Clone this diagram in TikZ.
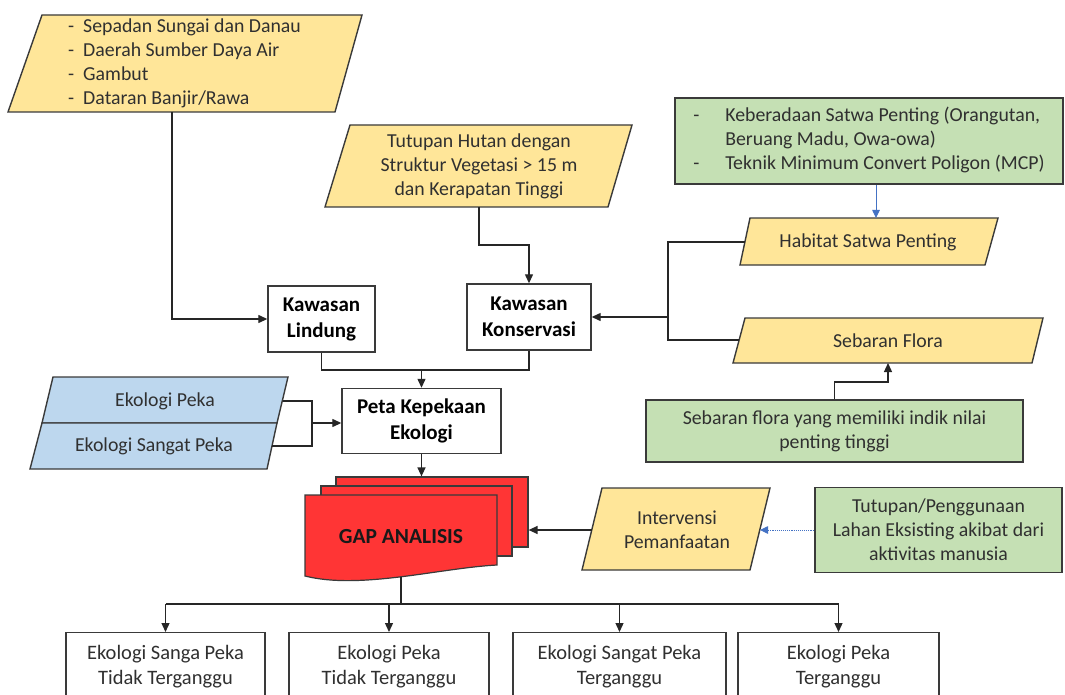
\documentclass[tikz,border=0pt]{standalone}
\usepackage{fontspec}
\setmainfont{Carlito}
\usetikzlibrary{arrows.meta}
\definecolor{yel}{HTML}{FFE699}
\definecolor{grn}{HTML}{C5E0B4}
\definecolor{blu}{HTML}{BDD7EE}
\definecolor{redf}{HTML}{FF3535}
\definecolor{edge}{HTML}{3A3A3A}
\definecolor{txt}{HTML}{303030}
\definecolor{arrblue}{HTML}{4472C4}
\begin{document}
\begin{tikzpicture}[x=1pt,y=-1pt,
  shapeline/.style={draw=edge, line width=1.4pt, line join=miter},
  txtnode/.style={inner sep=0pt, text=txt, font=\fontsize{19.8pt}{24pt}\selectfont},
  whitebox/.style={draw=edge, line width=1.4pt, fill=white, align=center, text=black, inner sep=0pt,
    font=\fontsize{21pt}{26pt}\selectfont\bfseries},
  greenbox/.style={draw=edge, line width=1.6pt, fill=grn, align=center, text=txt, inner sep=0pt,
    font=\fontsize{19.8pt}{24pt}\selectfont},
  botbox/.style={draw=edge, line width=1.4pt, fill=white, align=center, text=txt, inner sep=0pt,
    anchor=north, minimum height=68pt, font=\fontsize{20.5pt}{25pt}\selectfont},
  redpage/.style={draw=edge, line width=1.2pt, fill=redf, inner sep=0pt},
  line/.style={draw=black!85, line width=1.3pt},
  conn/.style={line, -{Triangle[length=9pt,width=8pt]}},
  bluearr/.style={draw=arrblue, line width=0.9pt, -{Triangle[length=8pt,width=7.5pt]}},
  bluedash/.style={draw=arrblue, line width=0.9pt, densely dotted, -{Triangle[length=8pt,width=7.5pt]}}
]
\useasboundingbox (0,0) rectangle (1065,695);
\clip (0,0) rectangle (1065,695);

% ---- top-left list parallelogram
\draw[shapeline, fill=yel] (42,15) -- (362,15) -- (335,112) -- (8,112) -- cycle;
\node[txtnode, anchor=base west] (listA) at (68,33)
  {\begin{tabular}[t]{@{}l@{\hspace{9pt}}l@{}}
   -&Sepadan Sungai dan Danau\\
   -&Daerah Sumber Daya Air\\
   -&Gambut\\
   -&Dataran Banjir/Rawa
   \end{tabular}};
\coordinate (listAB) at (172,112);

% ---- Tutupan Hutan parallelogram
\draw[shapeline, fill=yel] (350,125) -- (632,125) -- (608,207) -- (325,207) -- cycle;
\node[txtnode, align=center] (tut) at (479,166)
  {Tutupan Hutan dengan\\Struktur Vegetasi > 15 m\\dan Kerapatan Tinggi};
\coordinate (tutB) at (479,207);

% ---- Kawasan boxes
\node[whitebox, minimum width=107pt, minimum height=66pt] (lin) at (321.5,319) {Kawasan\\Lindung};
\node[whitebox, minimum width=124pt, minimum height=66pt] (kon) at (529,317) {Kawasan\\Konservasi};

% ---- green box 1
\node[greenbox, minimum width=388pt, minimum height=86pt] (g1) at (869,141)
  {\begin{tabular}{@{}l@{\hspace{26pt}}l@{}}
   -&Keberadaan Satwa Penting (Orangutan,\\
    &Beruang Madu, Owa-owa)\\
   -&Teknik Minimum Convert Poligon (MCP)
   \end{tabular}};

% ---- Habitat Satwa Penting
\draw[shapeline, fill=yel] (750,218) -- (998,218) -- (985,265) -- (740,265) -- cycle;
\node[txtnode] (hab) at (868,242) {Habitat Satwa Penting};
\coordinate (habT) at (876,218);
\coordinate (habL) at (745,242);

% ---- Sebaran Flora
\draw[shapeline, fill=yel] (745,318) -- (1043,318) -- (1032,363) -- (733,363) -- cycle;
\node[txtnode] (flo) at (888,341) {Sebaran Flora};
\coordinate (floL) at (739,340);
\coordinate (floB) at (888,363);

% ---- green box 2
\node[greenbox, minimum width=377pt, minimum height=62pt] (g2) at (834.5,431)
  {Sebaran flora yang memiliki indik nilai\\penting tinggi};

% ---- blue parallelograms
\draw[shapeline, fill=blu] (53,377) -- (288,377) -- (277,423) -- (42,423) -- cycle;
\draw[shapeline, fill=blu] (42,423) -- (277,423) -- (267,469) -- (30,469) -- cycle;
\node[txtnode] (ep) at (165,401) {Ekologi Peka};
\node[txtnode] (esp) at (154,446) {Ekologi Sangat Peka};
\coordinate (epR) at (283,401);
\coordinate (espR) at (272,446);

% ---- Peta Kepekaan Ekologi
\node[whitebox, minimum width=159pt, minimum height=65pt] (peta) at (421.5,421) {Peta Kepekaan\\Ekologi};

% ---- GAP ANALISIS (multi-document)
\node[redpage, minimum width=192pt, minimum height=70pt] (gapB) at (432,512) {};
\node[redpage, minimum width=191pt, minimum height=70pt] (gapM) at (416.5,521) {};
\draw[redpage] (305,495) -- (497,495) -- (497,565)
   .. controls (440,568) and (360,590) .. (305,576) -- cycle;
\node[inner sep=0pt, text=black!90, font=\fontsize{21.5pt}{26pt}\selectfont\bfseries] (gap) at (401,537) {GAP ANALISIS};
\coordinate (gapBot) at (401,577);

% ---- Intervensi Pemanfaatan
\draw[shapeline, fill=yel] (602,488) -- (770,488) -- (750,570) -- (582,570) -- cycle;
\node[txtnode, align=center] (int) at (677,530) {Intervensi\\Pemanfaatan};
\coordinate (intL) at (592,530);
\coordinate (intR) at (760,530);

% ---- green box 3
\node[greenbox, minimum width=247pt, minimum height=85pt] (g3) at (938.5,530)
  {Tutupan/Penggunaan\\Lahan Eksisting akibat dari\\aktivitas manusia};

% ---- bottom boxes
\node[botbox, minimum width=199pt] (b1) at (165.5,632) {Ekologi Sanga Peka\\Tidak Terganggu};
\node[botbox, minimum width=200pt] (b2) at (389,632) {Ekologi Peka\\Tidak Terganggu};
\node[botbox, minimum width=213pt] (b3) at (619.5,632) {Ekologi Sangat Peka\\Terganggu};
\node[botbox, minimum width=201pt] (b4) at (838.5,632) {Ekologi Peka\\Terganggu};
\coordinate (bus) at (401,604);

% ---- connectors
\draw[conn] (listAB) |- (lin.west);
\draw[conn] (tutB) -- (479,245) -| (kon.north);
\draw[bluearr] (g1.south -| habT) -- (habT);
\draw[line] (habL) -- (668,242) -- (668,340) -- (floL);
\draw[conn] (668,317) -- (kon.east);
\draw[conn] (g2.north) -- (834.5,382) -| (floB);
\draw[line] (lin.south) -- (321.5,370) -| (kon.south);
\draw[conn] (421.5,370) -- (peta.north);
\draw[line] (epR) -- (312,401) -- (312,446) -- (espR);
\draw[conn] (312,423) -- (peta.west |- 0,423);
\draw[conn] (peta.south) -- (peta.south |- gapB.north);
\draw[conn] (intL) -- (gapB.east |- intL);
\draw[bluedash] (g3.west |- intR) -- (intR);
\draw[line] (gapBot) -- (bus);
\draw[line] (b1.north |- bus) -- (b4.north |- bus);
\foreach \b in {b1,b2,b3,b4} \draw[conn] (\b.north |- bus) -- (\b.north);
\end{tikzpicture}
\end{document}
